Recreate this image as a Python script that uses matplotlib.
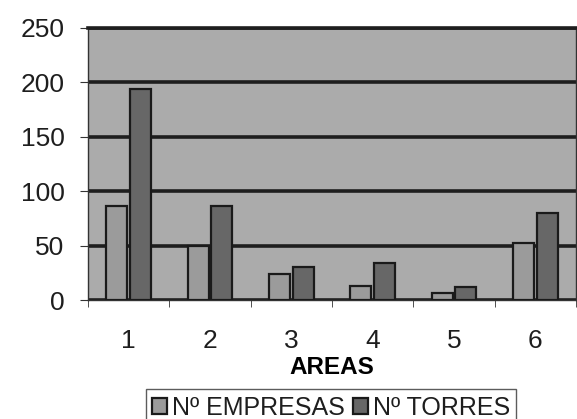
import numpy as np
import matplotlib
matplotlib.use('Agg')
import matplotlib.pyplot as plt

areas = ['1', '2', '3', '4', '5', '6']
empresas = [86, 50, 24, 13, 6, 52]
torres = [194, 86, 30, 34, 12, 80]

plt.rcParams['font.family'] = ['Liberation Sans', 'DejaVu Sans']
plt.rcParams['text.color'] = '#1e1e1e'

fig = plt.figure(figsize=(5.77, 4.19), dpi=100)
ax = fig.add_axes([0.1525, 0.284, 0.8458, 0.6492])

x = np.arange(len(areas))
w = 0.26
ax.set_axisbelow(True)
ax.bar(x - 0.145, empresas, w, color='#9b9b9b', edgecolor='#1a1a1a',
       linewidth=1.6, label='Nº EMPRESAS', zorder=3)
ax.bar(x + 0.145, torres, w, color='#676767', edgecolor='#1a1a1a',
       linewidth=1.6, label='Nº TORRES', zorder=3)

ax.set_facecolor('#ababab')
ax.set_ylim(0, 250)
ax.set_yticks(range(0, 251, 50))
ax.set_xlim(-0.5, 5.5)
ax.set_xticks(x)
ax.set_xticklabels(areas)
ax.set_xticks(np.arange(-0.5, 6, 1), minor=True)
ax.tick_params(axis='x', which='major', length=0, pad=21, labelsize=19,
               labelcolor='#1e1e1e')
ax.tick_params(axis='x', which='minor', length=5, direction='out',
               color='#333333')
ax.tick_params(axis='y', length=6, labelsize=19, pad=11, color='#333333',
               labelcolor='#1e1e1e')
ax.grid(axis='y', color='#1e1e1e', linewidth=2.6, zorder=1)
for s in ax.spines.values():
    s.set_color('#333333')
    s.set_linewidth(1)
ax.spines['top'].set_linewidth(2.6)
ax.spines['top'].set_color('#1e1e1e')

ax.set_xlabel('AREAS', fontsize=17.5, fontweight='bold', labelpad=2)

fig.legend(loc='upper center', bbox_to_anchor=(0.574, 0.071), ncol=2,
           fontsize=18, frameon=True, fancybox=False, edgecolor='#333333',
           handlelength=0.6, handleheight=0.6, handletextpad=0.2,
           columnspacing=0.3, borderpad=0.25, borderaxespad=0)

plt.savefig('out.png', dpi=100)
